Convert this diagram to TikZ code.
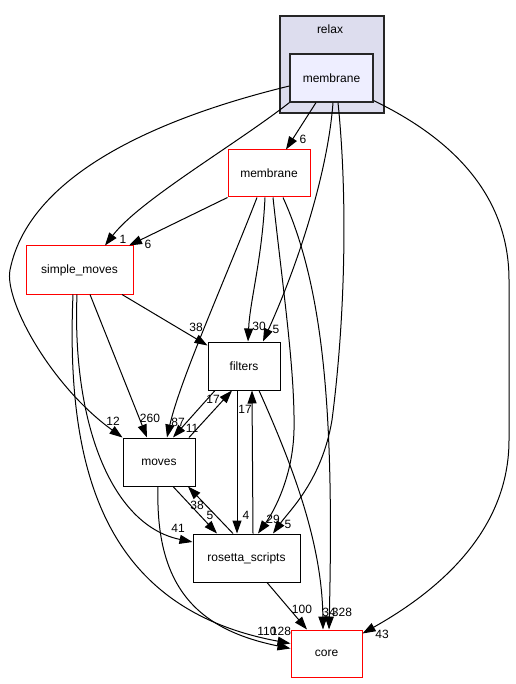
\documentclass[tikz,border=0pt]{standalone}
\usepackage{fontspec}
\setmainfont{Liberation Sans}
\usetikzlibrary{arrows.meta}

\begin{document}
\begin{tikzpicture}[
        x=1pt, y=-1pt,
        % Node styles
        dirbox/.style={draw, line width=1pt, fill=white, inner sep=0pt, minimum width=72pt, minimum height=48pt, font=\fontsize{12}{14}\selectfont},
        hot/.style={dirbox, draw=red},
        wide/.style={minimum width=107pt},
        cluster/.style={draw=black!85, line width=1.2pt, fill=clusterfill, minimum width=104pt, minimum height=97pt, inner sep=0pt},
        current/.style={dirbox, draw=black!85, line width=1.2pt, fill=currentfill, minimum width=83pt},
        title/.style={font=\fontsize{12}{14}\selectfont},
        elabel/.style={font=\fontsize{12}{14}\selectfont, inner sep=0pt},
        % Arrow styles
        dep/.style={-{Triangle[length=13pt, width=9pt]}, line width=1pt},
    ]
    \definecolor{clusterfill}{RGB}{221,221,238}
    \definecolor{currentfill}{RGB}{238,238,255}
    \useasboundingbox (0,0) rectangle (515,684);

    % Enclosing directory
    \node[cluster] (relax) at (332,64.5) {};
    \node[title] (relaxtitle) at (330,29) {relax};

    % Directories
    \node[current] (rm) at (331.5,78) {membrane};
    \node[hot, minimum width=82pt, minimum height=47pt] (mem) at (269,173.5) {membrane};
    \node[hot, wide] (sm) at (79.5,270) {simple\_moves};
    \node[dirbox] (filters) at (244,366) {filters};
    \node[dirbox] (moves) at (159,462) {moves};
    \node[dirbox, wide] (rs) at (246.5,558) {rosetta\_scripts};
    \node[hot, minimum width=71pt, minimum height=47pt] (core) at (326.5,653.5) {core};

    % Dependencies of relax/membrane
    \draw[dep] ([xshift=-15.5pt]rm.south) -- ([xshift=17pt]mem.north);
    \draw[dep] (rm.south west) .. controls (235,145) and (140,200) .. ([xshift=25.5pt]sm.north);
    \draw[dep] ([yshift=-8pt]rm.west) .. controls (170,115) and (30,170) .. (10,270)
        .. controls (4,300) and (50,385) .. (moves.north west);
    \draw[dep] ([xshift=1.5pt]rm.south) .. controls (328,170) and (300,260) .. ([xshift=19pt]filters.north);
    \draw[dep] ([xshift=6.5pt]rm.south) .. controls (348,200) and (345,320) .. (332,420)
        .. controls (322,480) and (290,510) .. ([xshift=26.5pt]rs.north);
    \draw[dep] ([yshift=2pt]rm.south east) .. controls (445,135) and (509,190) .. (509,280)
        -- (509,440) .. controls (509,530) and (440,590) .. ([yshift=-4pt]core.north east);

    % Dependencies of membrane
    \draw[dep] (mem.south west) -- ([xshift=49.5pt]sm.north);
    \draw[dep] ([xshift=-12pt]mem.south) .. controls (225,280) and (180,380) .. ([xshift=8pt]moves.north);
    \draw[dep] ([xshift=-4pt]mem.south) .. controls (262,260) and (250,300) .. ([xshift=4pt]filters.north);
    \draw[dep] ([xshift=4pt]mem.south) .. controls (283,290) and (295,370) .. (294,430)
        .. controls (293,475) and (275,510) .. ([xshift=11.5pt]rs.north);
    \draw[dep] ([xshift=14pt]mem.south) .. controls (325,290) and (334,420) .. ([xshift=2.5pt]core.north);

    % Dependencies of simple_moves
    \draw[dep] ([xshift=42.5pt]sm.south) -- ([yshift=-4pt]filters.north west);
    \draw[dep] ([xshift=10.5pt]sm.south) -- ([xshift=-12pt]moves.north);
    \draw[dep] ([xshift=-2.5pt]sm.south) .. controls (72,420) and (110,525) .. ([yshift=16pt]rs.west);
    \draw[dep] ([xshift=-6.5pt]sm.south) .. controls (65,480) and (110,610) .. ([yshift=10pt]core.west);

    % Dependencies between filters, moves and rosetta_scripts
    \draw[dep] ([xshift=-29pt]filters.south) -- ([xshift=14pt]moves.north);
    \draw[dep] ([xshift=30pt]moves.north) -- ([xshift=-12pt]filters.south);
    \draw[dep] ([xshift=-7pt]filters.south) -- ([xshift=-9.5pt]rs.north);
    \draw[dep] ([xshift=6.5pt]rs.north) -- ([xshift=8pt]filters.south);
    \draw[dep] ([xshift=14pt]moves.south) -- ([xshift=-29.5pt]rs.north);
    \draw[dep] ([xshift=-13.5pt]rs.north) -- ([xshift=29pt]moves.south);

    % Dependencies on core
    \draw[dep] ([xshift=15pt]filters.south) .. controls (290,460) and (322,540) .. ([xshift=-3.5pt]core.north);
    \draw[dep] ([xshift=-1pt]moves.south) .. controls (155,590) and (200,630) .. ([yshift=5pt]core.west);
    \draw[dep] ([xshift=20.5pt]rs.south) -- ([xshift=-19.5pt]core.north);

    % Edge labels
    \foreach \txt/\px/\py [count=\k] in {6/303/139, 1/123/239, 6/148/244, 12/113/421,
            5/276/329, 30/259/326, 38/196/327, 260/150/418, 87/178/422, 11/192/428,
            17/213/399, 17/245/409, 4/246/515, 29/273/519, 5/288/524, 38/197/505,
            5/210/515, 41/178/528, 100/302/609, 34/329/612, 328/342/612,
            110/267/631, 128/281/631, 43/382/634}
        \node[elabel] (lab\k) at (\px,\py) {\txt};
\end{tikzpicture}
\end{document}
